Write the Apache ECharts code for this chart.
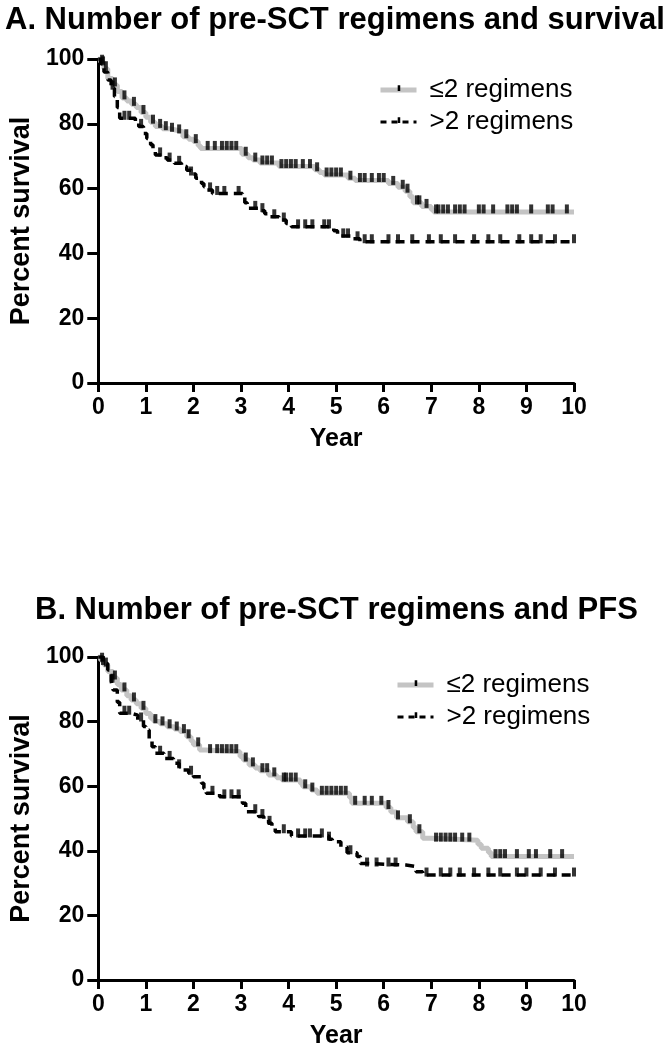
<!DOCTYPE html>
<html>
<head>
<meta charset="utf-8">
<script src="https://cdn.jsdelivr.net/npm/echarts@6/dist/echarts.min.js"></script>
<style>
html,body{margin:0;padding:0;background:#fff;}
#chart{width:663px;height:1050px;}
</style>
</head>
<body>
<div id="chart"></div>
<script>
// ---------------- data ----------------
const titleA = 'A. Number of pre-SCT regimens and survival';
const titleB = 'B. Number of pre-SCT regimens and PFS';
const groupNames = ['\u22642 regimens', '>2 regimens'];
const xTicks = [0, 1, 2, 3, 4, 5, 6, 7, 8, 9, 10];
const yTicks = [0, 20, 40, 60, 80, 100];

// Panel A: overall survival, step points [year, percent]
const osLow = [[0,100],[0.05,99],[0.12,97],[0.2,94],[0.3,92],[0.4,90],[0.5,88],[0.6,87],[0.7,86],[0.8,85],[0.9,83.5],[1.0,82],[1.1,80.5],[1.2,79.2],[1.35,78.5],[1.5,78],[1.65,77.5],[1.78,76],[1.9,75.2],[2.0,74.5],[2.1,73.2],[2.15,72.4],[3.02,70.6],[3.15,69.5],[3.25,68.8],[3.4,67.9],[3.8,66.8],[4.55,65.8],[4.65,65.0],[4.75,64.2],[5.25,63.2],[5.4,62.5],[6.1,61.6],[6.3,60.4],[6.45,59.2],[6.55,57.5],[6.62,55.6],[6.8,54.5],[7.0,53.5],[7.05,52.8],[10,52.8]];
const osHigh = [[0,100],[0.05,98.5],[0.12,96],[0.2,93.5],[0.27,91],[0.34,88.4],[0.4,85],[0.45,81.7],[0.78,80.6],[0.85,79.2],[0.95,77],[1.02,75.5],[1.1,73.5],[1.15,72],[1.2,70.4],[1.35,69.5],[1.45,68.8],[1.6,67.8],[1.75,66.8],[1.86,65.7],[1.95,64.5],[2.05,63.2],[2.17,61.6],[2.22,60.6],[2.27,59.6],[2.4,58.5],[3.03,57.3],[3.08,55.6],[3.13,53.9],[3.37,53.2],[3.5,52.2],[3.6,51.3],[3.8,50.3],[3.95,49.2],[4.06,48.2],[4.95,47.0],[5.03,45.4],[5.35,44.5],[5.5,43.6],[10,43.6]];
// Panel B: progression-free survival
const pfsLow = [[0,100],[0.05,99],[0.12,97.5],[0.2,95.5],[0.31,93.5],[0.4,91.5],[0.48,89.8],[0.6,88],[0.69,86.7],[0.8,85.5],[0.9,84.1],[1.0,82.5],[1.1,81],[1.17,80],[1.3,79.3],[1.45,78.4],[1.6,77.7],[1.72,76.9],[1.86,75.3],[1.95,74],[2.0,72.8],[2.13,71.2],[2.25,70.7],[2.98,69.2],[3.05,68.1],[3.17,66.6],[3.3,65.6],[3.4,64.8],[3.58,63.5],[3.75,62.6],[3.86,61.9],[4.25,60.8],[4.3,59.8],[4.48,58.8],[4.6,57.8],[5.28,56.5],[5.33,54.7],[6.05,53.4],[6.15,52.0],[6.27,50.2],[6.5,49.0],[6.62,47.2],[6.68,45.9],[6.82,43.9],[7.0,43.3],[7.98,42.0],[8.05,40.8],[8.2,39.5],[8.26,38.2],[10,38.2]];
const pfsHigh = [[0,100],[0.1,98],[0.2,96],[0.27,92.5],[0.31,89.8],[0.4,86],[0.45,82.6],[0.69,82],[0.83,80.5],[0.95,78.5],[1.0,77.4],[1.07,74.3],[1.13,72.2],[1.2,70.2],[1.38,68.6],[1.58,67.1],[1.7,66],[1.79,65],[1.9,64],[2.0,62.9],[2.17,60.9],[2.22,59.3],[2.27,57.8],[2.55,56.7],[3.03,54.7],[3.1,52.1],[3.37,50.6],[3.48,49.5],[3.58,48.5],[3.65,47.2],[3.72,45.9],[4.06,44.6],[4.85,43.6],[4.92,42.8],[5.1,41.2],[5.23,39.4],[5.44,38.2],[5.51,36.1],[5.58,35.6],[6.47,35.1],[6.68,33.5],[6.82,32.5],[10,32.5]];

// censoring times (years)
const osLowCens = [0.08,0.16,0.35,0.55,0.75,0.95,1.15,1.3,1.42,1.55,1.7,1.85,2.05,2.3,2.45,2.6,2.7,2.8,2.9,3.1,3.3,3.45,3.55,3.65,3.85,3.95,4.05,4.15,4.3,4.45,4.6,4.8,4.9,5.0,5.1,5.3,5.5,5.6,5.75,5.9,6.0,6.2,6.4,6.5,6.7,6.75,6.9,7.1,7.15,7.25,7.35,7.5,7.6,7.7,8.0,8.1,8.3,8.6,8.7,8.8,9.1,9.45,9.55,9.85];
const osHighCens = [0.1,0.3,0.55,0.65,0.9,1.3,1.5,1.7,1.95,2.35,2.5,2.65,2.95,3.3,3.45,3.7,3.9,4.2,4.35,4.5,4.75,4.85,5.15,5.25,5.45,5.6,5.75,6.1,6.3,6.6,6.95,7.2,7.5,7.9,8.2,8.45,8.85,9.1,9.3,9.6,10];
const pfsLowCens = [0.08,0.16,0.35,0.55,0.75,0.95,1.2,1.35,1.5,1.65,1.8,1.9,2.1,2.35,2.5,2.6,2.7,2.8,2.9,3.1,3.25,3.45,3.55,3.7,3.9,3.95,4.05,4.15,4.35,4.5,4.7,4.8,4.9,5.0,5.1,5.2,5.4,5.6,5.75,5.95,6.1,6.3,6.55,6.75,7.1,7.2,7.3,7.4,7.5,7.65,7.8,8.35,8.45,8.55,8.8,9.05,9.2,9.5,9.75];
const pfsHighCens = [0.1,0.3,0.55,0.65,0.9,1.3,1.5,1.7,1.95,2.4,2.65,2.8,2.95,3.3,3.45,3.6,3.9,4.2,4.35,4.45,4.7,4.85,5.3,5.65,5.85,6.1,6.25,6.9,7.2,7.4,7.6,7.9,8.2,8.45,8.8,9.0,9.3,9.6,10];

// ---------------- helpers ----------------
function levelAt(steps, t) {
  let v = steps[0][1];
  for (const p of steps) { if (p[0] <= t) v = p[1]; else break; }
  return v;
}
function censorPoints(steps, times) { return times.map(t => [t, levelAt(steps, t)]); }

const FONT = '"Liberation Sans", Arial, sans-serif';
const tickPath = 'path://M0,0 L0.01,0 Z M3,0.5 L4.6,0.5 L4.6,4.2 L3,4.2 Z M7,7 L7.01,7 Z';

function makeX(gridIndex) {
  return {
    type: 'value', gridIndex, min: 0, max: 10, interval: 1,
    name: 'Year', nameLocation: 'middle', nameGap: 44,
    nameTextStyle: { fontFamily: FONT, fontWeight: 'bold', fontSize: 25, color: '#000' },
    axisLine: { show: true, onZero: false, lineStyle: { color: '#000', width: 3 } },
    axisTick: { show: true, length: 9, lineStyle: { color: '#000', width: 3 } },
    axisLabel: { margin: 13, fontFamily: FONT, fontWeight: 'bold', fontSize: 23, color: '#000',
      formatter: v => xTicks.includes(v) ? String(v) : '' },
    splitLine: { show: false }
  };
}
function makeY(gridIndex) {
  return {
    type: 'value', gridIndex, min: 0, max: 100, interval: 20,
    name: 'Percent survival', nameLocation: 'middle', nameGap: 62,
    nameTextStyle: { fontFamily: FONT, fontWeight: 'bold', fontSize: 27, color: '#000' },
    axisLine: { show: true, lineStyle: { color: '#000', width: 3 } },
    axisTick: { show: true, length: 11, lineStyle: { color: '#000', width: 3 } },
    axisLabel: { margin: 14, fontFamily: FONT, fontWeight: 'bold', fontSize: 23, color: '#000',
      formatter: v => yTicks.includes(v) ? String(v) : '' },
    splitLine: { show: false }
  };
}
function lowLine(idx, data) {
  return {
    name: groupNames[0], type: 'line', step: 'end', xAxisIndex: idx, yAxisIndex: idx,
    data, showSymbol: false, symbol: tickPath,
    lineStyle: { color: '#c4c4c4', width: 5 }, itemStyle: { color: '#000' },
    z: 2, silent: true, animation: false
  };
}
function highLine(idx, data) {
  return {
    name: groupNames[1], type: 'line', step: 'end', xAxisIndex: idx, yAxisIndex: idx,
    data, showSymbol: false, symbol: tickPath,
    lineStyle: { color: '#000', width: 3.5, type: [9, 6] }, itemStyle: { color: '#000' },
    z: 3, silent: true, animation: false
  };
}
function censors(idx, name, pts) {
  return {
    name, type: 'scatter', xAxisIndex: idx, yAxisIndex: idx, data: pts,
    symbol: 'rect', symbolSize: [4, 9], symbolOffset: [0, -3],
    itemStyle: { color: '#000' }, z: 4, silent: true, animation: false
  };
}
function legendAt(left, top) {
  return {
    data: [
      { name: groupNames[0], lineStyle: { color: '#c4c4c4', width: 5 } },
      { name: groupNames[1], lineStyle: { color: '#000', width: 3, type: [6, 5] } }
    ],
    orient: 'vertical', left, top, itemWidth: 36, itemHeight: 14, itemGap: 6,
    formatter: n => '{t|' + n + '}',
    textStyle: { fontFamily: FONT, fontSize: 26, color: '#000',
      rich: { t: { fontFamily: FONT, fontSize: 26, color: '#000', padding: [0, 0, 0, 8] } } },
    selectedMode: false
  };
}

const chart = echarts.init(document.getElementById('chart'), null, { renderer: 'canvas' });
chart.setOption({
  backgroundColor: '#fff',
  animation: false,
  title: [
    { text: titleA, left: 0, top: 0, textStyle: { fontFamily: FONT, fontWeight: 'bold', fontSize: 31, color: '#000' } },
    { text: titleB, left: 30, top: 590, textStyle: { fontFamily: FONT, fontWeight: 'bold', fontSize: 31, color: '#000' } }
  ],
  legend: [legendAt(373, 72), legendAt(390, 667)],
  grid: [
    { left: 90, width: 484, top: 59, height: 324 },
    { left: 90, width: 484, top: 657, height: 323 }
  ],
  xAxis: [makeX(0), makeX(1)],
  yAxis: [makeY(0), makeY(1)],
  series: [
    lowLine(0, osLow), highLine(0, osHigh),
    censors(0, 'cens-os-low', censorPoints(osLow, osLowCens)),
    censors(0, 'cens-os-high', censorPoints(osHigh, osHighCens)),
    lowLine(1, pfsLow), highLine(1, pfsHigh),
    censors(1, 'cens-pfs-low', censorPoints(pfsLow, pfsLowCens)),
    censors(1, 'cens-pfs-high', censorPoints(pfsHigh, pfsHighCens))
  ]
});
</script>
</body>
</html>
